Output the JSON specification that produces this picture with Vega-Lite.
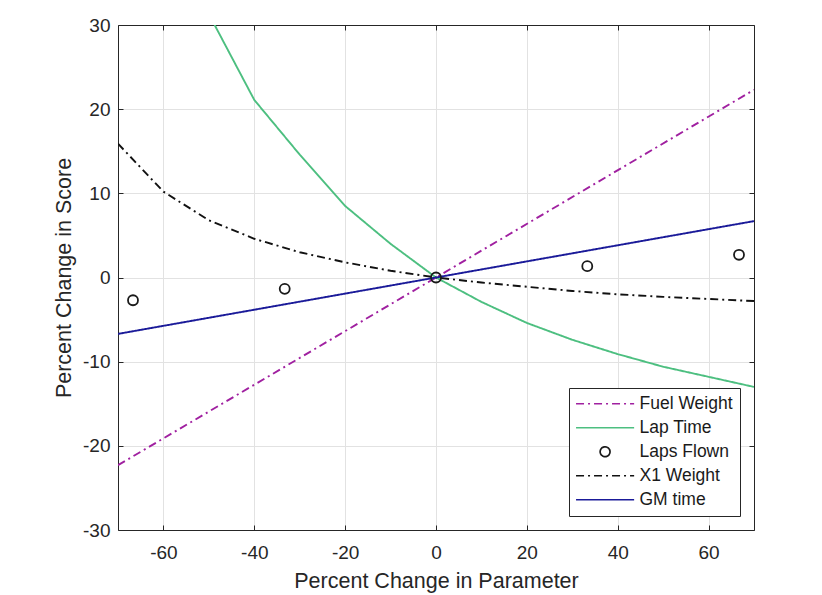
{
  "$schema": "https://vega.github.io/schema/vega-lite/v6.json",
  "width": 636,
  "height": 505,
  "autosize": {"type": "none"},
  "padding": {"left": 118, "top": 25, "right": 68, "bottom": 65},
  "background": "white",
  "config": {
    "view": {"stroke": null},
    "font": "Liberation Sans",
    "axis": {
      "domainColor": "#262626",
      "tickColor": "#262626",
      "labelColor": "#262626",
      "titleColor": "#262626",
      "labelFont": "Liberation Sans",
      "titleFont": "Liberation Sans",
      "labelFontSize": 19,
      "titleFontSize": 21.5,
      "titleFontWeight": "normal",
      "gridColor": "#e2e2e2",
      "tickSize": -5,
      "domainWidth": 1,
      "tickWidth": 1
    }
  },
  "data": {
    "values": [
      {"series": "Fuel Weight", "x": -70, "y": -22.3},
      {"series": "Fuel Weight", "x": 0, "y": 0},
      {"series": "Fuel Weight", "x": 70, "y": 22.3},
      {"series": "Lap Time", "x": -50, "y": 31.3},
      {"series": "Lap Time", "x": -40, "y": 21.1},
      {"series": "Lap Time", "x": -30, "y": 14.6},
      {"series": "Lap Time", "x": -20, "y": 8.5},
      {"series": "Lap Time", "x": -10, "y": 4.0},
      {"series": "Lap Time", "x": 0, "y": 0},
      {"series": "Lap Time", "x": 10, "y": -2.9},
      {"series": "Lap Time", "x": 20, "y": -5.4},
      {"series": "Lap Time", "x": 30, "y": -7.4},
      {"series": "Lap Time", "x": 40, "y": -9.1},
      {"series": "Lap Time", "x": 50, "y": -10.6},
      {"series": "Lap Time", "x": 60, "y": -11.8},
      {"series": "Lap Time", "x": 70, "y": -13.0},
      {"series": "Laps Flown", "x": -66.7, "y": -2.7},
      {"series": "Laps Flown", "x": -33.3, "y": -1.35},
      {"series": "Laps Flown", "x": 0, "y": 0},
      {"series": "Laps Flown", "x": 33.3, "y": 1.35},
      {"series": "Laps Flown", "x": 66.7, "y": 2.7},
      {"series": "X1 Weight", "x": -70, "y": 15.9},
      {"series": "X1 Weight", "x": -60, "y": 10.2},
      {"series": "X1 Weight", "x": -50, "y": 6.8},
      {"series": "X1 Weight", "x": -40, "y": 4.6},
      {"series": "X1 Weight", "x": -30, "y": 3.0},
      {"series": "X1 Weight", "x": -20, "y": 1.8},
      {"series": "X1 Weight", "x": -10, "y": 0.8},
      {"series": "X1 Weight", "x": 0, "y": 0},
      {"series": "X1 Weight", "x": 10, "y": -0.6},
      {"series": "X1 Weight", "x": 20, "y": -1.1},
      {"series": "X1 Weight", "x": 30, "y": -1.6},
      {"series": "X1 Weight", "x": 40, "y": -2.0},
      {"series": "X1 Weight", "x": 50, "y": -2.3},
      {"series": "X1 Weight", "x": 60, "y": -2.55},
      {"series": "X1 Weight", "x": 70, "y": -2.8},
      {"series": "GM time", "x": -70, "y": -6.7},
      {"series": "GM time", "x": 0, "y": 0},
      {"series": "GM time", "x": 70, "y": 6.7}
    ]
  },
  "layer": [
    {
      "transform": [{"filter": "datum.series !== 'Laps Flown'"}],
      "mark": {"type": "line", "clip": true, "strokeWidth": 1.9},
      "encoding": {
        "x": {
          "field": "x", "type": "quantitative",
          "scale": {"domain": [-70, 70], "nice": false, "zero": false},
          "axis": {
            "orient": "bottom",
            "values": [-60, -40, -20, 0, 20, 40, 60],
            "title": "Percent Change in Parameter",
            "grid": true,
            "labelPadding": 18,
            "titlePadding": 8,
            "labelExpr": "datum.value < 0 ? '-' + abs(datum.value) : '' + datum.value"
          }
        },
        "y": {
          "field": "y", "type": "quantitative",
          "scale": {"domain": [-30, 30], "nice": false, "zero": false},
          "axis": {
            "orient": "left",
            "values": [-30, -20, -10, 0, 10, 20, 30],
            "title": "Percent Change in Score",
            "grid": true,
            "labelPadding": 13,
            "titlePadding": 7,
            "labelExpr": "datum.value < 0 ? '-' + abs(datum.value) : '' + datum.value"
          }
        },
        "color": {
          "field": "series", "type": "nominal",
          "scale": {
            "domain": ["Fuel Weight", "Lap Time", "Laps Flown", "X1 Weight", "GM time"],
            "range": ["#a020a0", "#4dbf80", "#1a1a1a", "#111111", "#1a1a99"]
          },
          "legend": {
            "title": null,
            "orient": "none",
            "legendX": 451,
            "legendY": 363,
            "padding": 7,
            "strokeColor": "#262626",
            "fillColor": "white",
            "symbolSize": 135,
            "symbolStrokeWidth": 1.7,
            "labelFont": "Liberation Sans",
            "labelFontSize": 17.5,
            "labelColor": "#1a1a1a",
            "labelOffset": 46,
            "rowPadding": 5,
            "encode": {
              "symbols": {
                "update": {
                  "shape": [
                    {"test": "datum.value === 'Laps Flown'", "value": "M4.35,0A0.85,0.85,0,1,1,2.65,0A0.85,0.85,0,1,1,4.35,0Z"},
                    {"value": "M-1.5,0L8.5,0"}
                  ],
                  "strokeDash": [
                    {"test": "datum.value === 'Fuel Weight' || datum.value === 'X1 Weight'", "value": [8, 4, 2, 4]},
                    {"value": [1, 0]}
                  ],
                  "stroke": {"scale": "color", "field": "value"},
                  "fill": {"value": "transparent"},
                  "opacity": {"value": 1}
                }
              }
            }
          }
        },
        "strokeDash": {
          "field": "series", "type": "nominal",
          "scale": {
            "domain": ["Fuel Weight", "Lap Time", "Laps Flown", "X1 Weight", "GM time"],
            "range": [[8, 4, 2, 4], [1, 0], [1, 0], [8, 4, 2, 4], [1, 0]]
          },
          "legend": null
        }
      }
    },
    {
      "transform": [{"filter": "datum.series === 'Laps Flown'"}],
      "mark": {"type": "point", "filled": false, "size": 100, "strokeWidth": 1.8, "opacity": 1, "clip": true},
      "encoding": {
        "x": {
          "field": "x", "type": "quantitative",
          "axis": {"orient": "top", "labels": false, "title": null, "grid": false, "values": [-60, -40, -20, 0, 20, 40, 60]}
        },
        "y": {
          "field": "y", "type": "quantitative",
          "axis": {"orient": "right", "labels": false, "title": null, "grid": false, "values": [-30, -20, -10, 0, 10, 20, 30]}
        },
        "color": {
          "field": "series", "type": "nominal",
          "legend": {
            "title": null,
            "orient": "none",
            "legendX": 451,
            "legendY": 363,
            "padding": 7,
            "strokeColor": "#262626",
            "fillColor": "white",
            "symbolSize": 135,
            "symbolStrokeWidth": 1.7,
            "labelFont": "Liberation Sans",
            "labelFontSize": 17.5,
            "labelColor": "#1a1a1a",
            "labelOffset": 46,
            "rowPadding": 5,
            "encode": {
              "symbols": {
                "update": {
                  "shape": [
                    {"test": "datum.value === 'Laps Flown'", "value": "M4.35,0A0.85,0.85,0,1,1,2.65,0A0.85,0.85,0,1,1,4.35,0Z"},
                    {"value": "M-1.5,0L8.5,0"}
                  ],
                  "strokeDash": [
                    {"test": "datum.value === 'Fuel Weight' || datum.value === 'X1 Weight'", "value": [8, 4, 2, 4]},
                    {"value": [1, 0]}
                  ],
                  "stroke": {"scale": "color", "field": "value"},
                  "fill": {"value": "transparent"},
                  "opacity": {"value": 1}
                }
              }
            }
          }
        }
      }
    }
  ]
}
